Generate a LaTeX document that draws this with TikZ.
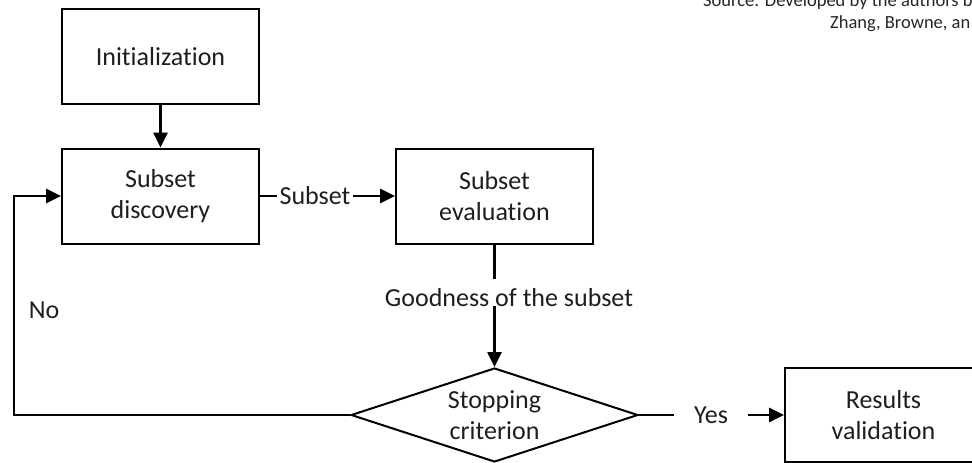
\documentclass[tikz,border=0pt]{standalone}
\usepackage{fontspec}
\setmainfont{Carlito}[RawFeature={-liga;-clig}]
\usetikzlibrary{arrows.meta,shapes.geometric}
\definecolor{txt}{HTML}{1E1E1E}
\tikzset{
  box/.style={draw, line width=2pt, minimum width=197pt, minimum height=95pt, align=center, inner sep=0pt, text=txt, font=\fontsize{26}{31.5}\selectfont},
  dec/.style={draw, diamond, line width=2pt, aspect=3, minimum width=287pt, minimum height=94pt, inner sep=0pt, align=center, text=txt, font=\fontsize{26}{31.5}\selectfont},
  lbl/.style={inner sep=0pt, text=txt, font=\fontsize{26}{31.5}\selectfont},
  conn/.style={line width=2.6pt},
  arr/.style={line width=2.6pt, -{Triangle[length=15pt,width=14pt]}},
  src/.style={inner sep=0pt, font=\fontsize{18.5}{22}\selectfont, text=black!85}
}
\begin{document}
\begin{tikzpicture}[x=1pt,y=-1pt]
\useasboundingbox (0,0) rectangle (972,463);
\node[box] (init) at (160.5,56.5) {Initialization};
\node[box] (disc) at (160.5,196) {Subset\\discovery};
\node[box] (eval) at (494.5,196) {Subset\\evaluation};
\node[dec] (stop) at (494.5,415) {Stopping\\criterion};
\node[box, minimum height=94pt] (res) at (883.5,415) {Results\\validation};
\node[lbl, inner xsep=2pt] (sub) at (315,196) {Subset};
\node[lbl, anchor=base, text height=18pt, text depth=0pt] (good) at (509,306) {Goodness of the subset};
\node[lbl, inner xsep=20pt] (yes) at (711,415) {Yes};
\node[lbl] (no) at (44,310) {No};
\coordinate (corner) at (14,415);
\node[src, anchor=base west] (s1) at (703,6) {Source: Developed by the authors b};
\node[src, anchor=base west] (s2) at (830,28) {Zhang, Browne, an};
\draw[arr] (init.south) -- (disc.north);
\draw[conn] (disc.east) -- (sub.west);
\draw[arr] (sub.east) -- (eval.west);
\draw[conn, shorten >=9pt] (eval.south) -- (eval.south |- good.north);
\draw[arr] (eval.south |- good.base) -- (stop.north);
\draw[conn] (stop.east) -- (yes.west);
\draw[arr] (yes.east) -- (res.west);
\draw[arr] (stop.west) -- (corner) |- (disc.west);
\end{tikzpicture}
\end{document}
